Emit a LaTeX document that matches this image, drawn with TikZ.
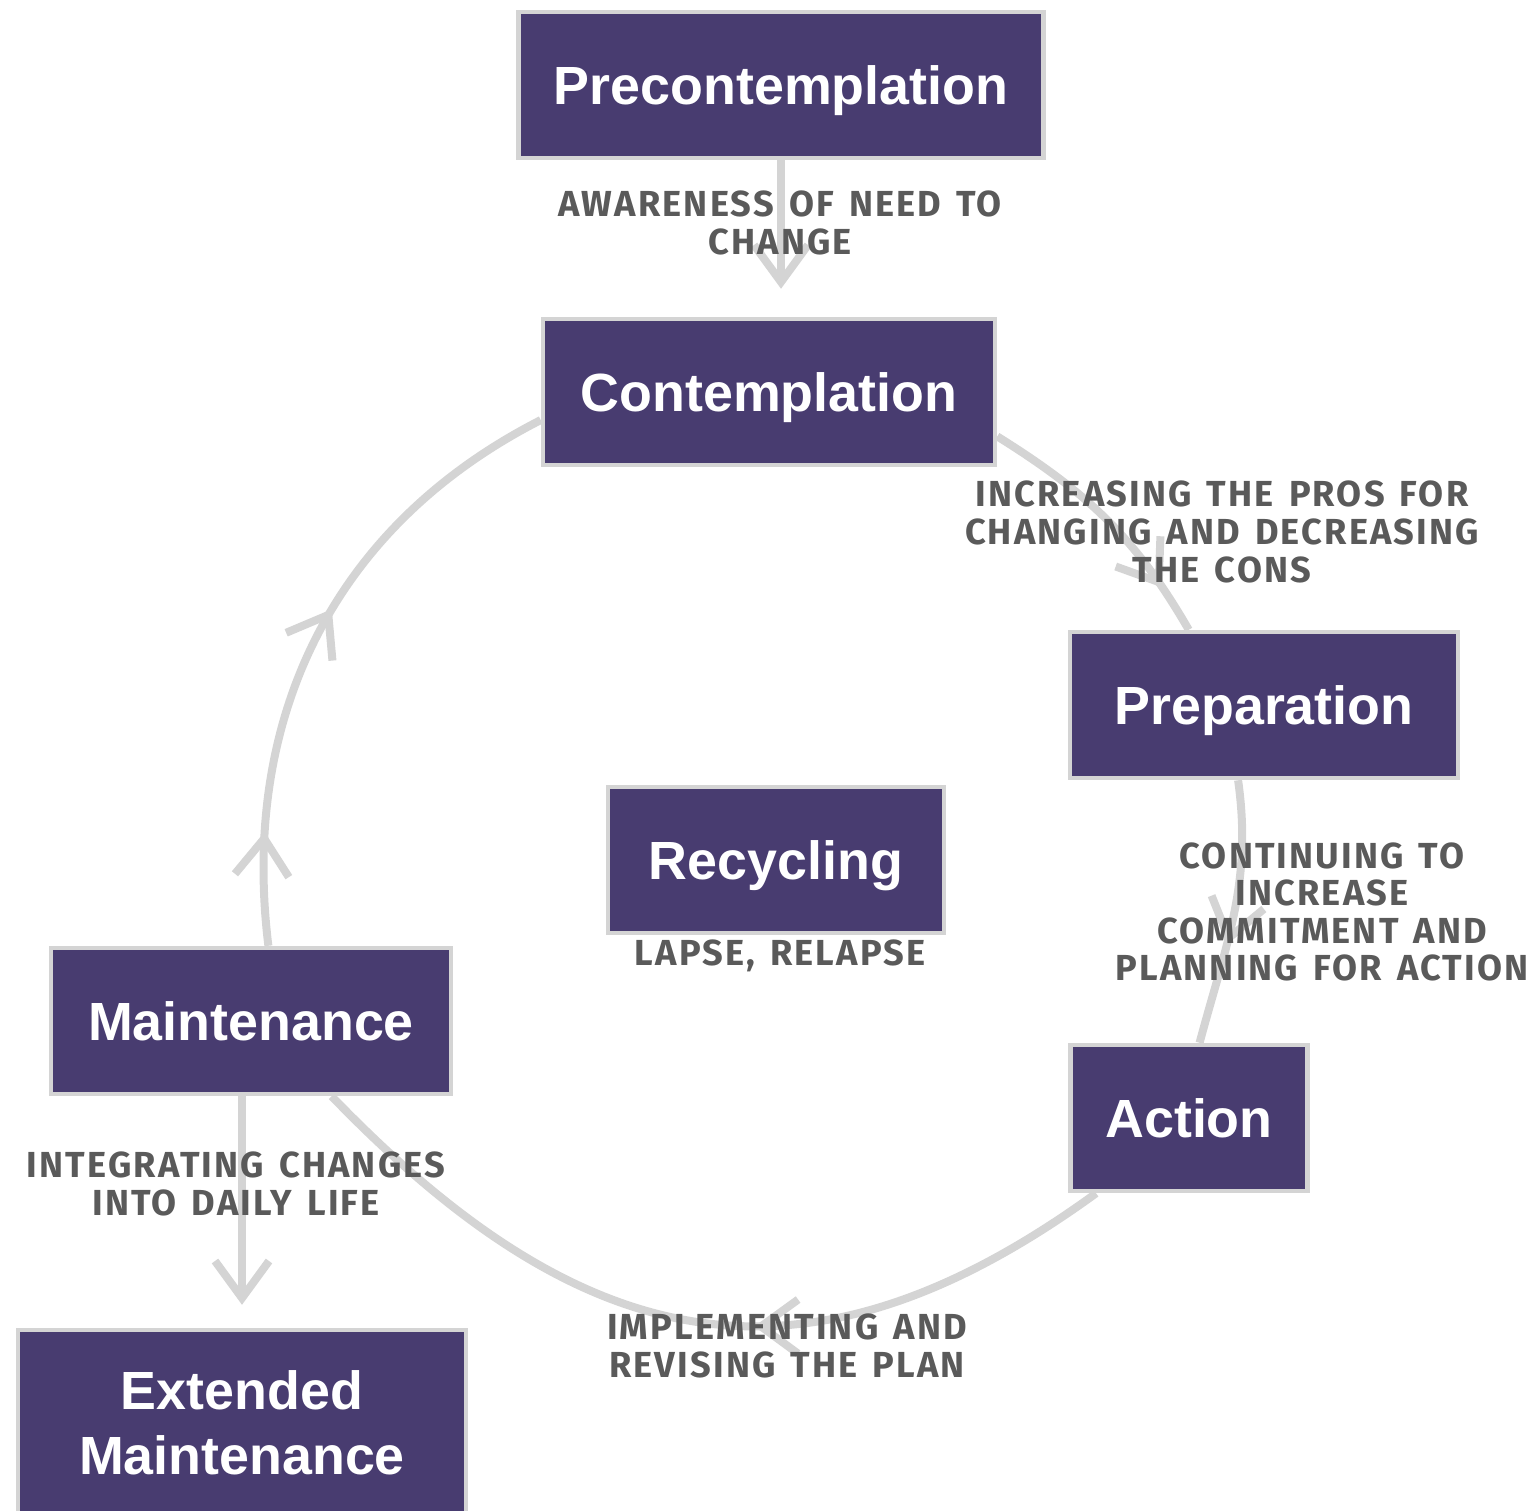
\documentclass[tikz,border=0pt]{standalone}
\usepackage{fontspec}
\setmainfont{Liberation Sans}
\newfontfamily\handfont[LetterSpace=6,WordSpace=1.4]{Fira Sans}
\usetikzlibrary{arrows.meta,decorations.markings}
\definecolor{stagepurple}{HTML}{483C70}
\definecolor{rimgrey}{HTML}{D4D4D4}
\definecolor{notegrey}{HTML}{5A5A5A}
\tikzset{
  tipbarb/.tip={Straight Barb[length=3.7mm,width=5.4mm]},
  stage/.style={draw=rimgrey, line width=0.45mm, fill=stagepurple, text=white, align=center,
    font=\fontsize{15.3}{18.5}\selectfont\bfseries, minimum height=14.6mm, inner sep=0pt,
    text height=11.1pt, text depth=0pt},
  note/.style={text=notegrey, align=center, inner sep=0pt,
    font=\handfont\fontsize{10.3}{10.7}\selectfont\bfseries},
  cycleline/.style={draw=rimgrey, line width=0.8mm},
  barbat/.style={postaction={decorate, decoration={markings, mark=at position #1 with {\arrow{tipbarb}}}}}
}
\begin{document}
\begin{tikzpicture}[x=0.1mm,y=0.1mm]
\useasboundingbox (0,0) rectangle (1538,-1510);
\node[stage, minimum width=52.5mm] (pre) at (781,-85) {Precontemplation};
\node[stage, minimum width=45.2mm] (cont) at (769,-392) {Contemplation};
\node[stage, minimum width=38.8mm] (prep) at (1264,-705) {Preparation};
\node[stage, minimum width=33.6mm] (recyc) at (776,-860) {Recycling};
\node[stage, minimum width=40mm] (maint) at (251,-1021) {Maintenance};
\node[stage, minimum width=23.7mm] (act) at (1189,-1118) {Action};
\node[stage, minimum width=44.8mm, minimum height=18.4mm, text height=29.6pt] (ext) at (242,-1422) {Extended\\Maintenance};

\draw[cycleline, -tipbarb, shorten >=2.8mm] (pre.south) -- (pre.south |- cont.north);
\draw[cycleline, barbat=0.82] (cont.-11) to[out=-32, in=120] (prep.135);
\draw[cycleline, barbat=0.62] (prep.-109) to[out=-82, in=75] (act.82);
\draw[cycleline, barbat=0.43] (act.-141) to[out=-144, in=-46, looseness=1.2] (maint.-43);
\draw[cycleline, barbat=0.18, barbat=0.55] (maint.77) to[out=97, in=-153] (cont.187);
\draw[cycleline, -tipbarb, shorten >=2.3mm] (ext.north |- maint.south) -- (ext.north);

\node[note] (aware) at (780,-223) {AWARENESS OF NEED TO\\CHANGE};
\node[note] (pros) at (1222,-532) {INCREASING THE PROS FOR\\CHANGING AND DECREASING\\THE CONS};
\node[note] (commit) at (1322,-912) {CONTINUING TO\\INCREASE\\COMMITMENT AND\\PLANNING FOR ACTION};
\node[note] (lapse) at (780,-956) {LAPSE, RELAPSE};
\node[note] (integ) at (236,-1184) {INTEGRATING CHANGES\\INTO DAILY LIFE};
\node[note] (impl) at (787,-1346) {IMPLEMENTING AND\\REVISING THE PLAN};
\end{tikzpicture}
\end{document}
